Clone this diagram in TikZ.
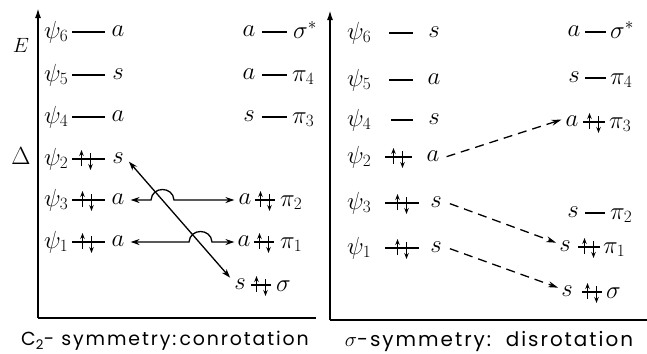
\documentclass[tikz,border=0pt]{standalone}
\usepackage{fontspec}
\newfontfamily\capfont[LetterSpace=10]{Poppins}
\usetikzlibrary{arrows.meta,calc}
\tikzset{
  lbl/.style={inner sep=0pt, font=\fontsize{26}{28}\selectfont},
  psil/.style={lbl, anchor=base west},
  sym/.style={lbl, anchor=base},
  lvl/.style={line width=1.3bp},
  axis/.style={line width=1.8bp, -{Latex[length=10bp,width=6bp]}},
  frame/.style={line width=1.8bp},
  conn/.style={line width=1.3bp, >={Stealth[length=9bp,width=6bp]}},
  dconn/.style={line width=1.3bp, dash pattern=on 9bp off 6bp, -{Stealth[length=10bp,width=6bp]}},
  caption/.style={inner sep=0pt, font=\capfont\fontsize{20}{22}\selectfont},
  pics/epair/.style 2 args={code={
    \draw[lvl] (-#1,0)--(#2,0);
    \draw[line width=1.1bp,-{Stealth[length=6bp,width=4.5bp]}] (-4.5,7)--(-4.5,-9);
    \draw[line width=1.1bp,-{Stealth[length=6bp,width=4.5bp]}] (4.5,-6)--(4.5,11);
  }}
}
\begin{document}
\begin{tikzpicture}[x=1bp,y=-1bp]
\useasboundingbox (0,0) rectangle (647,353);
% ---------- left panel ----------
\coordinate (LaxB) at (38,318);
\coordinate (LaxT) at (38,8);
\coordinate (LbR) at (316,318);
\draw[axis] (LaxB) -- (LaxT);
\draw[frame] (LaxB) -- (LbR);
\node[lbl, font=\fontsize{22}{24}\selectfont] (E) at (21,45) {$E$};
\node[lbl] (D) at (21,156) {$\Delta$};
% psi levels
\node[psil] (Lp6) at (44,38) {$\psi_6$};
\draw[lvl] (72,32) -- (105,32);
\node[sym] (Ls6) at (118,36) {$a$};
\node[psil] (Lp5) at (44,81) {$\psi_5$};
\draw[lvl] (72,75) -- (105,75);
\node[sym] (Ls5) at (118,79) {$s$};
\node[psil] (Lp4) at (44,123) {$\psi_4$};
\draw[lvl] (72,117) -- (105,117);
\node[sym] (Ls4) at (118,121) {$a$};
\node[psil] (Lp2) at (44,165) {$\psi_2$};
\pic at (86,159) {epair={14}{19}};
\node[sym] (Ls2) at (118,163) {$s$};
\node[psil] (Lp3) at (44,206) {$\psi_3$};
\pic at (87,200) {epair={15}{18}};
\node[sym] (Ls3) at (118,204) {$a$};
\node[psil] (Lp1) at (44,248) {$\psi_1$};
\pic at (87,242) {epair={15}{18}};
\node[sym] (Ls1) at (118,246) {$a$};
% right levels
\node[sym] (Rs6) at (249,36) {$a$};
\draw[lvl] (262,32) -- (287,32);
\node[psil] (Rsigs) at (293,38) {$\sigma^{*}$};
\node[sym] (Rs5) at (249,79) {$a$};
\draw[lvl] (262,75) -- (287,75);
\node[psil] (Rpi4) at (292,81) {$\pi_4$};
\node[sym] (Rs4) at (249,121) {$s$};
\draw[lvl] (262,117) -- (287,117);
\node[psil] (Rpi3) at (292,123) {$\pi_3$};
\node[sym] (Rs3) at (245,204) {$a$};
\pic at (265,200) {epair={10}{10}};
\node[psil] (Rpi2) at (280,206) {$\pi_2$};
\node[sym] (Rs2) at (244,246) {$a$};
\pic at (264,242) {epair={10}{10}};
\node[psil] (Rpi1) at (280,248) {$\pi_1$};
\node[sym] (Rs1) at (240,289) {$s$};
\pic at (261,285) {epair={10}{10}};
\node[psil] (Rsig) at (276,291) {$\sigma$};
% connectors
\draw[conn, <->] ($(Ls2.east)+(5,4)$) -- ($(Rs1.west)+(-4,-6)$);
\coordinate (h1a) at (151,200);
\coordinate (h1b) at (174,200);
\draw[conn, <->] ($(h1a -| Ls3.east)+(6,0)$) -- (h1a)
   .. controls (152,186) and (173,186) .. (h1b) -- ($(h1b -| Rs3.west)+(-4,0)$);
\coordinate (h2a) at (189,242);
\coordinate (h2b) at (212,242);
\draw[conn, <->] ($(h2a -| Ls1.east)+(6,0)$) -- (h2a)
   .. controls (190,228) and (211,228) .. (h2b) -- ($(h2b -| Rs2.west)+(-3,0)$);
% ---------- right panel ----------
\coordinate (RaxB) at (330,320);
\coordinate (RaxT) at (330,10);
\coordinate (RbR) at (647,320);
\draw[axis] (RaxB) -- (RaxT);
\draw[frame] (RaxB) -- (RbR);
\node[psil] (Qp6) at (347,39) {$\psi_6$};
\draw[lvl] (389,33) -- (413,33);
\node[sym] (Qs6) at (434,37) {$s$};
\node[psil] (Qp5) at (347,86) {$\psi_5$};
\draw[lvl] (389,80) -- (413,80);
\node[sym] (Qs5) at (434,84) {$a$};
\node[psil] (Qp4) at (347,126) {$\psi_4$};
\draw[lvl] (391,120) -- (413,120);
\node[sym] (Qs4) at (434,124) {$s$};
\node[psil] (Qp2) at (347,163) {$\psi_2$};
\pic at (398,157) {epair={13}{14}};
\node[sym] (Qs2) at (433,161) {$a$};
\node[psil] (Qp3) at (347,209) {$\psi_3$};
\pic at (402,203) {epair={17}{17}};
\node[sym] (Qs3) at (436,207) {$s$};
\node[psil] (Qp1) at (347,254) {$\psi_1$};
\pic at (402,248) {epair={17}{17}};
\node[sym] (Qs1) at (436,252) {$s$};
% right levels
\node[sym] (Ps6) at (574,36) {$a$};
\draw[lvl] (585,32) -- (606,32);
\node[psil] (Psigs) at (610,38) {$\sigma^{*}$};
\node[sym] (Ps5) at (574,82) {$s$};
\draw[lvl] (585,78) -- (606,78);
\node[psil] (Ppi4) at (610,84) {$\pi_4$};
\node[sym] (Ps4) at (572,126) {$a$};
\pic at (594,122) {epair={11}{11}};
\node[psil] (Ppi3) at (609,128) {$\pi_3$};
\node[sym] (Ps3) at (573,217) {$s$};
\draw[lvl] (585,213) -- (605,213);
\node[psil] (Ppi2) at (610,219) {$\pi_2$};
\node[sym] (Ps2) at (565,251) {$s$};
\pic at (589,247) {epair={11}{11}};
\node[psil] (Ppi1) at (603,253) {$\pi_1$};
\node[sym] (Ps1) at (567,296) {$s$};
\pic at (592,292) {epair={10}{10}};
\node[psil] (Psig) at (606,298) {$\sigma$};
% dashed connectors
\draw[dconn] ($(Qs2.east)+(7,1)$) -- ($(Ps4.west)+(-4,-1)$);
\draw[dconn] ($(Qs3.east)+(8,2)$) -- ($(Ps2.west)+(-3,-3)$);
\draw[dconn] ($(Qs1.east)+(8,2)$) -- ($(Ps1.west)+(-3,-3)$);
% captions
\node[caption, font=\capfont\fontsize{19}{22}\selectfont] (cap1) at (165,341) {C\textsubscript{2}- symmetry:\,conrotation};
\node[caption] (cap2) at (489,341) {$\sigma$-symmetry:\ \ disrotation};
\end{tikzpicture}
\end{document}
